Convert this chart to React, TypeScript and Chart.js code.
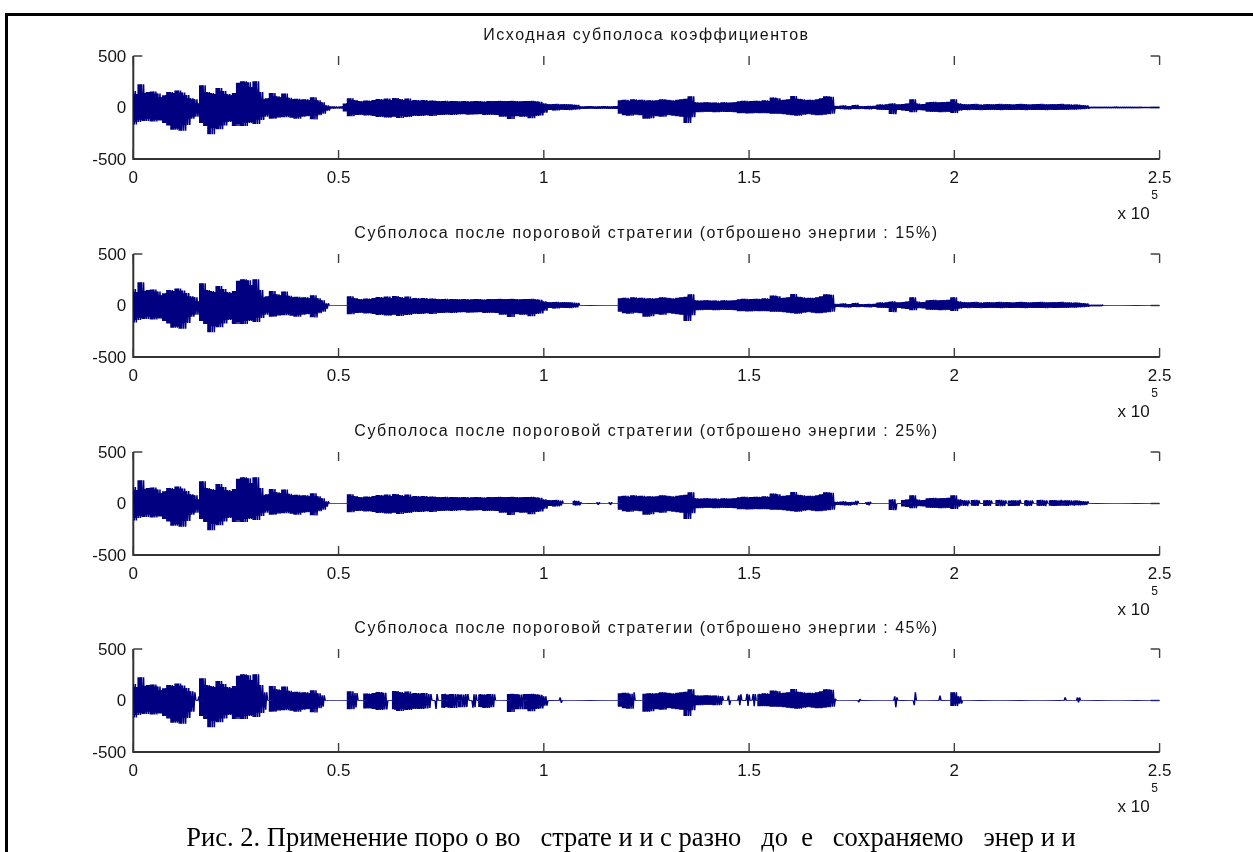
import React, { useEffect, useRef } from 'react';
import { Chart, registerables } from 'chart.js';

Chart.register(...registerables);

// ---------- DATA ----------
const BIN = 1000; // samples per envelope bin
const N_SAMPLES = 250000;

// Positive envelope of the original sub-band, one value per 1000 samples
const upperEnv = [
  160, 130, 225, 140, 150, 155, 135, 100, 120, 150,
  140, 165, 145, 120, 90, 80, 40, 215, 150, 140,
  130, 190, 160, 130, 120, 140, 240, 255, 245, 200,
  255, 150, 80, 90, 140, 110, 100, 135, 95, 80,
  85, 75, 80, 70, 100, 70, 50, 20, 10, 8,
  6, 10, 40, 90, 72, 62, 58, 68, 62, 72,
  82, 76, 88, 72, 92, 82, 72, 88, 66, 72,
  66, 72, 62, 68, 62, 60, 64, 58, 62, 60,
  58, 62, 56, 60, 62, 58, 56, 62, 60, 64,
  62, 60, 64, 62, 58, 60, 62, 64, 60, 56,
  40, 32, 30, 35, 28, 32, 30, 28, 25, 10,
  8, 12, 10, 8, 10, 12, 8, 10, 15, 70,
  75, 65, 80, 70, 75, 65, 70, 65, 70, 80,
  75, 70, 65, 75, 80, 85, 110, 50, 45, 48,
  50, 45, 48, 42, 50, 46, 48, 50, 60, 65,
  58, 62, 65, 60, 70, 64, 96, 90, 70, 75,
  80, 112, 85, 80, 70, 75, 70, 80, 90, 110,
  105, 15, 12, 20, 10, 15, 25, 12, 10, 15,
  12, 18, 30, 25, 32, 40, 30, 28, 35, 40,
  80, 38, 30, 35, 50, 54, 48, 52, 50, 55,
  80, 40, 32, 30, 28, 35, 30, 25, 32, 30,
  28, 35, 30, 32, 28, 30, 35, 32, 28, 30,
  32, 35, 30, 28, 32, 30, 35, 28, 30, 25,
  28, 22, 20, 6, 5, 6, 5, 4, 5, 6,
  5, 4, 5, 4, 3, 3, 1, 1, 1, 1,
];

// Negative envelope (magnitudes) of the original sub-band
const lowerEnv = [
  165, 140, 120, 130, 110, 135, 120, 125, 150, 175,
  215, 205, 225, 170, 110, 90, 50, 150, 180, 260,
  200, 210, 175, 140, 130, 180, 160, 180, 150, 140,
  160, 120, 90, 70, 110, 100, 90, 95, 80, 100,
  110, 90, 85, 80, 115, 75, 60, 30, 10, 8,
  6, 10, 40, 85, 67, 72, 66, 78, 72, 82,
  92, 86, 98, 92, 86, 102, 82, 92, 82, 76,
  82, 76, 72, 82, 66, 72, 70, 66, 72, 64,
  66, 62, 70, 64, 66, 62, 72, 66, 70, 72,
  90, 86, 112, 82, 84, 90, 86, 104, 82, 76,
  50, 22, 25, 28, 20, 22, 25, 20, 18, 10,
  12, 8, 10, 12, 8, 10, 12, 8, 15, 60,
  75, 80, 65, 70, 75, 110, 105, 80, 85, 90,
  75, 70, 80, 85, 90, 150, 95, 42, 45, 40,
  42, 38, 45, 42, 40, 44, 42, 45, 55, 52,
  58, 54, 50, 56, 52, 55, 60, 58, 60, 65,
  70, 75, 80, 70, 65, 60, 70, 75, 70, 65,
  60, 12, 15, 10, 20, 12, 15, 10, 12, 18,
  10, 15, 22, 20, 25, 64, 22, 25, 28, 35,
  45, 25, 22, 30, 42, 40, 42, 45, 40, 42,
  54, 30, 22, 25, 20, 22, 25, 20, 24, 22,
  20, 25, 22, 20, 24, 22, 20, 25, 22, 20,
  24, 22, 25, 20, 22, 24, 20, 22, 18, 20,
  18, 15, 12, 5, 6, 5, 4, 5, 6, 4,
  5, 4, 4, 3, 3, 2, 1, 1, 1, 1,
];

// Sample ranges that survive the thresholding (outside them the band is zero)
const keep15 = [[0, 47500], [52300, 108500], [118500, 236000]];
const keep25 = [
  [0, 47500], [52500, 104700], [107500, 109000], [112800, 113600], [115800, 116600],
  [118800, 171500], [172000, 176600], [178500, 179600], [184600, 185800], [187800, 201600],
  [202000, 203600], [204500, 206000], [207500, 209100], [211000, 212600], [214000, 216100],
  [217500, 219100], [220500, 222600], [223500, 226100], [227000, 229600], [230000, 232600],
];
const keep45 = [
  [0, 15100], [15800, 16600], [17000, 32600], [34000, 46600], [52500, 54600],
  [57000, 61900], [63500, 71900], [72000, 72600], [73600, 74100], [75600, 76100],
  [76600, 79100], [79900, 81600], [82600, 83600], [84500, 88100], [91800, 95100],
  [96000, 100800], [103800, 104300], [119000, 122100], [124600, 143600], [144800, 145300],
  [147500, 148100], [149500, 150100], [151000, 151600], [152500, 171200], [176600, 177100],
  [185400, 186100], [190200, 190600], [196400, 196600], [199300, 201900], [226800, 227100],
  [230000, 230600],
];

const subplotTitles = [
  'Исходная субполоса коэффициентов',
  'Субполоса после пороговой стратегии (отброшено энергии : 15%)',
  'Субполоса после пороговой стратегии (отброшено энергии : 25%)',
  'Субполоса после пороговой стратегии (отброшено энергии : 45%)',
];
const subplotKeeps = [null, keep15, keep25, keep45];

const xTickValues = [0, 50000, 100000, 150000, 200000, 250000];
const xTickLabels = ['0', '0.5', '1', '1.5', '2', '2.5'];
const yTickValues = [-500, 0, 500];
const yTickLabels = ['-500', '0', '500'];
const xExponentBase = 'x 10';
const xExponent = '5';

const captionText = 'Рис. 2. Применение поро о во   страте и и с разно   до  е   сохраняемо   энер и и';

// ---------- HELPERS ----------
function inKeep(x: number, keep: number[][] | null) {
  if (!keep) return true;
  for (const [a, b] of keep) if (x >= a && x <= b) return true;
  return false;
}

// Each envelope bin is drawn as a dense up/down oscillation between its two envelope values
function buildSeries(keep: number[][] | null) {
  const pts: { x: number; y: number }[] = [];
  const step = BIN / 4;
  for (let i = 0; i < upperEnv.length; i++) {
    for (let k = 0; k < 4; k++) {
      const x = i * BIN + k * step;
      const v = k % 2 === 0 ? upperEnv[i] : -lowerEnv[i];
      pts.push({ x, y: inKeep(x, keep) ? v : 0 });
    }
  }
  pts.push({ x: N_SAMPLES, y: 0 });
  return pts;
}

// Solid core of the band: stepped envelope, only for bins fully kept
function buildEnvelope(keep: number[][] | null, env: number[], sign: number) {
  const pts: { x: number; y: number }[] = [];
  for (let i = 0; i < env.length; i++) {
    const x = i * BIN;
    const full = inKeep(x, keep) && inKeep(x + (3 * BIN) / 4, keep);
    pts.push({ x, y: full ? sign * env[i] : 0 });
  }
  pts.push({ x: N_SAMPLES, y: 0 });
  return pts;
}

const CANVAS_W = 1253;
const CANVAS_H = 250;
const PLOT_TOPS = [0, 198, 396, 593];
const SIGNAL_COLOR = '#000080';

const matlabAxes = {
  id: 'matlabAxes',
  beforeDatasetsDraw(chart: any) {
    const { ctx, chartArea } = chart;
    const xs = chart.scales.x;
    const ys = chart.scales.y;
    const L = chartArea.left, R = chartArea.right, T = chartArea.top, B = chartArea.bottom;
    const tick = 9;
    ctx.save();
    ctx.strokeStyle = '#404040';
    ctx.lineWidth = 1.4;
    ctx.beginPath();
    for (const v of xTickValues) {
      const px = xs.getPixelForValue(v);
      ctx.moveTo(px, B); ctx.lineTo(px, B - tick);
      ctx.moveTo(px, T); ctx.lineTo(px, T + tick);
    }
    for (const v of yTickValues) {
      const py = ys.getPixelForValue(v);
      ctx.moveTo(L, py); ctx.lineTo(L + tick, py);
      ctx.moveTo(R, py); ctx.lineTo(R - tick, py);
    }
    ctx.stroke();
    ctx.strokeStyle = '#333333';
    ctx.lineWidth = 2;
    ctx.beginPath();
    ctx.moveTo(L, T); ctx.lineTo(L, B);
    ctx.lineTo(R, B);
    ctx.stroke();
    ctx.restore();
  },
  afterDraw(chart: any, _args: any, opts: any) {
    const { ctx, chartArea } = chart;
    const xs = chart.scales.x;
    const ys = chart.scales.y;
    const L = chartArea.left, R = chartArea.right, T = chartArea.top, B = chartArea.bottom;
    ctx.save();
    ctx.fillStyle = '#151515';
    ctx.font = '17px "Liberation Sans", Arial, sans-serif';
    ctx.textAlign = 'right';
    ctx.textBaseline = 'middle';
    yTickValues.forEach((v, i) => {
      ctx.fillText(yTickLabels[i], L - 7, ys.getPixelForValue(v) + 1);
    });
    ctx.textAlign = 'center';
    xTickValues.forEach((v, i) => {
      ctx.fillText(xTickLabels[i], xs.getPixelForValue(v), B + 19);
    });
    ctx.textAlign = 'right';
    ctx.fillText(xExponentBase, R - 10, B + 55);
    ctx.font = '12px "Liberation Sans", Arial, sans-serif';
    ctx.textAlign = 'center';
    ctx.fillText(xExponent, R - 5, B + 37);
    ctx.font = '16px "Liberation Sans", Arial, sans-serif';
    try { (ctx as any).letterSpacing = '1.5px'; } catch (e) {}
    ctx.textAlign = 'center';
    ctx.fillText(opts.title, (L + R) / 2, T - 20);
    ctx.restore();
  },
};

function Subplot({ index }: { index: number }) {
  const ref = useRef<HTMLCanvasElement>(null);
  useEffect(() => {
    if (!ref.current) return;
    const keep = subplotKeeps[index];
    const envStyle = {
      borderWidth: 0,
      borderColor: SIGNAL_COLOR,
      backgroundColor: SIGNAL_COLOR,
      pointRadius: 0,
      stepped: 'after',
      fill: 'origin',
    };
    const chart = new Chart(ref.current, {
      type: 'line',
      data: {
        datasets: [
          {
            data: buildSeries(keep),
            borderColor: SIGNAL_COLOR,
            borderWidth: 1.5,
            borderJoinStyle: 'bevel',
            pointRadius: 0,
            tension: 0,
            fill: false,
            segment: {
              borderWidth: (c: any) => (c.p0.parsed.y === 0 && c.p1.parsed.y === 0 ? 1 : 1.5),
              borderColor: (c: any) => (c.p0.parsed.y === 0 && c.p1.parsed.y === 0 ? '#1a1a96' : SIGNAL_COLOR),
            },
          } as any,
          { ...envStyle, data: buildEnvelope(keep, upperEnv, 1) } as any,
          { ...envStyle, data: buildEnvelope(keep, lowerEnv, -1) } as any,
        ],
      },
      options: {
        responsive: false,
        animation: false,
        devicePixelRatio: 1,
        events: [],
        layout: { padding: { left: 133.3, right: CANVAS_W - 1159.6, top: 56, bottom: CANVAS_H - 56 - 103 } },
        scales: {
          x: { type: 'linear', min: 0, max: N_SAMPLES, display: false },
          y: { type: 'linear', min: -500, max: 500, display: false },
        },
        plugins: {
          legend: { display: false },
          tooltip: { enabled: false },
          title: { display: false },
          filler: { propagate: false },
          matlabAxes: { title: subplotTitles[index] },
        } as any,
      },
      plugins: [matlabAxes],
    });
    return () => chart.destroy();
  }, [index]);
  return (
    <canvas
      ref={ref}
      width={CANVAS_W}
      height={CANVAS_H}
      style={{ position: 'absolute', left: 0, top: PLOT_TOPS[index], width: CANVAS_W, height: CANVAS_H }}
    />
  );
}

export default function App() {
  return (
    <div
      style={{
        position: 'absolute', left: 0, top: 0, width: 1253, height: 852,
        overflow: 'hidden', background: '#ffffff',
      }}
    >
      <div
        style={{
          position: 'absolute', left: 5, top: 13, width: 1400, height: 1000,
          borderLeft: '3px solid #000', borderTop: '3px solid #000', boxSizing: 'border-box',
        }}
      />
      {[0, 1, 2, 3].map((i) => (
        <Subplot key={i} index={i} />
      ))}
      <div
        style={{
          position: 'absolute', left: 0, width: 1262, top: 821, textAlign: 'center',
          fontFamily: '"Liberation Serif", "Times New Roman", serif', fontSize: 26.5,
          whiteSpace: 'pre', color: '#000', lineHeight: '32px',
        }}
      >
        {captionText}
      </div>
    </div>
  );
}
